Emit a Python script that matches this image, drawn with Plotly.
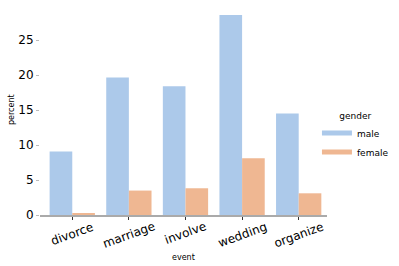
import plotly.graph_objects as go

events = ["divorce", "marriage", "involve", "wedding", "organize"]
male = [9.07, 19.66, 18.41, 28.57, 14.5]
female = [0.24, 3.49, 3.82, 8.11, 3.1]
y_ticks = [0, 5, 10, 15, 20, 25]

male_color = "#acc9ea"
female_color = "#efb792"
font = "DejaVu Sans"

fig = go.Figure()
fig.add_trace(go.Bar(x=events, y=male, name="male", marker_color=male_color,
                     marker_line_width=0, showlegend=False))
fig.add_trace(go.Bar(x=events, y=female, name="female", marker_color=female_color,
                     marker_line_width=0, showlegend=False))
# legend swatches
fig.add_trace(go.Scatter(x=[None], y=[None], mode="lines", name="male",
                         line=dict(color=male_color, width=5)))
fig.add_trace(go.Scatter(x=[None], y=[None], mode="lines", name="female",
                         line=dict(color=female_color, width=5)))

# rotated category labels (centred under each tick, like matplotlib)
for ev in events:
    fig.add_annotation(x=ev, y=0, xref="x", yref="y", text=ev, showarrow=False,
                       textangle=-20, xanchor="center", yanchor="top",
                       yshift=-2, font=dict(size=12, family=font, color="black"))

fig.add_annotation(x=0.5, y=-0.2, xref="paper", yref="paper", text="event",
                   showarrow=False, xanchor="center", yanchor="middle",
                   font=dict(size=8, family=font, color="black"))
fig.add_annotation(x=0, y=0.5, xref="paper", yref="paper", text="percent",
                   showarrow=False, textangle=-90, xanchor="center", yanchor="middle",
                   xshift=-29, font=dict(size=8, family=font, color="black"))

fig.update_layout(
    width=399, height=266,
    margin=dict(l=40, r=72, t=5, b=51, autoexpand=False),
    plot_bgcolor="white", paper_bgcolor="white",
    barmode="group", bargap=0.2, bargroupgap=0,
    font=dict(family=font, color="black"),
    showlegend=True,
    legend=dict(
        title=dict(text="gender", font=dict(size=9), side="top center"),
        font=dict(size=9),
        x=0.965, xanchor="left", y=0.515, yanchor="top",
        itemwidth=30, tracegroupgap=0,
        bgcolor="rgba(0,0,0,0)",
    ),
    xaxis=dict(
        type="category", range=[-0.57, 4.5], automargin=False,
        showline=True, linecolor="#aaaaaa", linewidth=1.5,
        ticks="outside", ticklen=3, tickcolor="#333333", tickwidth=1,
        showticklabels=False,
        showgrid=False, zeroline=False,
    ),
    yaxis=dict(
        range=[0, 30], tickvals=y_ticks, automargin=False,
        showline=False, showgrid=False, zeroline=False,
        ticks="outside", ticklen=3, tickcolor="#bbbbbb", tickwidth=1,
        tickfont=dict(size=12),
    ),
)

fig.write_html(
    "out.html",
    config={"displayModeBar": False},
    post_script="document.body.style.margin='0';document.body.style.overflow='hidden';",
)
